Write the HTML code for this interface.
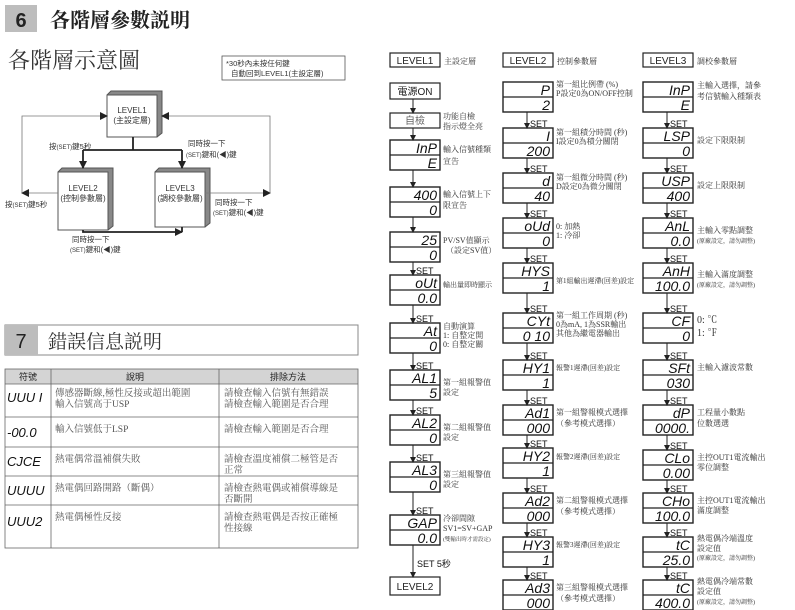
<!DOCTYPE html>
<html><head><meta charset="utf-8"><style>
body{margin:0;background:#fff;}
svg{display:block;font-family:"Liberation Sans","Noto Sans CJK TC",sans-serif;}
.s{font-family:"Liberation Serif","Noto Serif CJK SC",serif;fill:#333;font-size:8px;}
.g{font-family:"Liberation Sans",sans-serif;font-style:italic;font-size:14px;fill:#111;text-anchor:end;}
.set{font-size:9px;fill:#111;}
</style></head><body>
<svg width="795" height="610" viewBox="0 0 795 610">
<defs>
<marker id="a" markerWidth="8" markerHeight="8" refX="7" refY="4" orient="auto" markerUnits="userSpaceOnUse"><path d="M0,0 L8,4 L0,8z" fill="#222"/></marker>
<marker id="b" markerWidth="6" markerHeight="6" refX="5" refY="3" orient="auto" markerUnits="userSpaceOnUse"><path d="M0,0 L6,3 L0,6z" fill="#222"/></marker>
</defs>
<!-- title 6 -->
<rect x="5" y="5" width="32" height="27" fill="#bdbdbd"/>
<text x="21" y="27" font-size="20" font-weight="bold" text-anchor="middle" fill="#222">6</text>
<text x="50" y="27" font-size="20" font-weight="bold" font-family="Liberation Serif,Noto Serif CJK SC,serif" fill="#222">各階層參數説明</text>
<text x="8" y="68" font-size="22" font-family="Liberation Serif,Noto Serif CJK SC,serif" fill="#333">各階層示意圖</text>
<rect x="222" y="56" width="123" height="24" fill="none" stroke="#555" stroke-width="0.8"/>
<text x="226" y="66" font-size="7.5" fill="#333">*30秒內未按任何鍵</text>
<text x="231" y="76" font-size="7.5" fill="#333">自動回到LEVEL1(主設定層)</text>
<!-- level boxes -->
<g stroke="#555" stroke-width="1">
<path d="M107,95 L111,91 L162,91 L162,133 L157,137" fill="#888"/>
<rect x="107" y="95" width="50" height="42" fill="#fff"/>
<path d="M58,172 L62,168 L113,168 L113,226 L108,230" fill="#888"/>
<rect x="58" y="172" width="50" height="58" fill="#fff"/>
<path d="M155,172 L159,168 L210,168 L210,223 L205,227" fill="#888"/>
<rect x="155" y="172" width="50" height="55" fill="#fff"/>
</g>
<g font-size="8" fill="#333" text-anchor="middle">
<text x="132" y="113">LEVEL1</text><text x="132" y="123">(主設定層)</text>
<text x="83" y="191">LEVEL2</text><text x="83" y="201">(控制參數層)</text>
<text x="180" y="191">LEVEL3</text><text x="180" y="201">(調校參數層)</text>
</g>
<g fill="none" stroke="#222" stroke-width="1.8">
<path d="M133,137 V150 M83,150 H182"/>
<path d="M83,150 V168" marker-end="url(#a)"/>
<path d="M182,150 V168" marker-end="url(#a)"/>
<path d="M83,230 V232 H182" marker-end="url(#a)"/>
<path d="M182,227 V232"/>
</g>
<g fill="none" stroke="#777" stroke-width="0.8">
<path d="M58,193 H22" marker-end="url(#a)"/>
<path d="M22,193 V116 H107" marker-end="url(#a)"/>
<path d="M205,193 H270" marker-end="url(#a)"/>
<path d="M270,193 V116 H162" marker-end="url(#a)"/>
</g>
<g font-size="7.5" fill="#333">
<text x="49" y="149">按<tspan font-size="6">(SET)</tspan>鍵5秒</text>
<text x="188" y="146">同時按一下</text><text x="186" y="157"><tspan font-size="6">(SET)</tspan>鍵和(◀)鍵</text>
<text x="5" y="207">按<tspan font-size="6">(SET)</tspan>鍵5秒</text>
<text x="215" y="205">同時按一下</text><text x="213" y="215"><tspan font-size="6">(SET)</tspan>鍵和(◀)鍵</text>
<text x="72" y="242">同時按一下</text><text x="70" y="252"><tspan font-size="6">(SET)</tspan>鍵和(◀)鍵</text>
</g>
<!-- section 7 -->
<rect x="5" y="325" width="353" height="30" fill="#fff" stroke="#888"/>
<rect x="5" y="325" width="33" height="30" fill="#bdbdbd"/>
<text x="21" y="348" font-size="20" text-anchor="middle" fill="#222">7</text>
<text x="48" y="348" font-size="19" font-family="Liberation Serif,Noto Serif CJK SC,serif" fill="#333">錯誤信息説明</text>
<rect x="5" y="369" width="353" height="15" fill="#d4d4d4"/>
<g stroke="#666" stroke-width="0.8" fill="none">
<rect x="5" y="369" width="353" height="179"/>
<path d="M5,384 H358 M5,417 H358 M5,447 H358 M5,476 H358 M5,505 H358 M51,369 V548 M219,369 V548"/>
</g>
<g font-size="9" fill="#222" text-anchor="middle">
<text x="28" y="380">符號</text><text x="135" y="380">說明</text><text x="288" y="380">排除方法</text>
</g>
<g font-family="Liberation Sans,sans-serif" font-style="italic" font-size="13" fill="#111">
<text x="7" y="402">UUU I</text><text x="7" y="437">-00.0</text><text x="7" y="466">CJCE</text><text x="7" y="495">UUUU</text><text x="7" y="526">UUU2</text>
</g>
<g class="s" style="font-size:9.5px;fill:#555">
<text x="55" y="396">傳感器斷線,極性反接或超出範圍</text><text x="55" y="407">輸入信號高于USP</text>
<text x="55" y="432">輸入信號低于LSP</text>
<text x="55" y="462">熱電偶常溫補償失敗</text>
<text x="55" y="491">熱電偶回路開路（斷偶）</text>
<text x="55" y="520">熱電偶極性反接</text>
<text x="224" y="396">請檢查輸入信號有無錯誤</text><text x="224" y="407">請檢查輸入範圍是否合理</text>
<text x="224" y="432">請檢查輸入範圍是否合理</text>
<text x="224" y="462">請檢查溫度補償二極管是否</text><text x="224" y="473">正常</text>
<text x="224" y="491">請檢查熱電偶或補償導線是</text><text x="224" y="502">否斷開</text>
<text x="224" y="520">請檢查熱電偶是否按正確極</text><text x="224" y="531">性接線</text>
</g>
<!-- right headers -->
<g stroke="#222" stroke-width="1.2" fill="#fff">
<rect x="390" y="53" width="50" height="14"/><rect x="503" y="53" width="50" height="14"/><rect x="643" y="53" width="50" height="14"/>
<rect x="390" y="83" width="50" height="16"/><rect x="390" y="113" width="50" height="15"/>
<rect x="390" y="577" width="50" height="18"/>
</g>
<g font-size="10" fill="#222" text-anchor="middle">
<text x="415" y="64">LEVEL1</text><text x="528" y="64">LEVEL2</text><text x="668" y="64">LEVEL3</text>
<text x="415" y="95">電源ON</text><text x="415" y="124" fill="#666">自檢</text><text x="415" y="590">LEVEL2</text>
</g>
<g class="s"><text x="444" y="64">主設定層</text><text x="557" y="64">控制參數層</text><text x="697" y="64">調校參數層</text></g>
<!-- displays -->
<g stroke="#222" stroke-width="1.4" fill="#fff">
<rect x="390" y="140" width="50" height="30"/><rect x="390" y="187" width="50" height="30"/><rect x="390" y="232" width="50" height="30"/><rect x="390" y="275" width="50" height="30"/><rect x="390" y="323" width="50" height="30"/><rect x="390" y="370" width="50" height="30"/><rect x="390" y="415" width="50" height="30"/><rect x="390" y="462" width="50" height="30"/><rect x="390" y="515" width="50" height="30"/>
<rect x="503" y="82" width="50" height="30"/><rect x="503" y="128" width="50" height="30"/><rect x="503" y="173" width="50" height="30"/><rect x="503" y="218" width="50" height="30"/><rect x="503" y="263" width="50" height="30"/><rect x="503" y="313" width="50" height="30"/><rect x="503" y="360" width="50" height="30"/><rect x="503" y="405" width="50" height="30"/><rect x="503" y="448" width="50" height="30"/><rect x="503" y="493" width="50" height="30"/><rect x="503" y="537" width="50" height="30"/><rect x="503" y="580" width="50" height="30"/>
<rect x="643" y="82" width="50" height="30"/><rect x="643" y="128" width="50" height="30"/><rect x="643" y="173" width="50" height="30"/><rect x="643" y="218" width="50" height="30"/><rect x="643" y="263" width="50" height="30"/><rect x="643" y="313" width="50" height="30"/><rect x="643" y="360" width="50" height="30"/><rect x="643" y="405" width="50" height="30"/><rect x="643" y="450" width="50" height="30"/><rect x="643" y="493" width="50" height="30"/><rect x="643" y="537" width="50" height="30"/><rect x="643" y="580" width="50" height="30"/>
</g>
<g stroke="#222" stroke-width="1.2">
<path d="M390,155h50M390,202h50M390,247h50M390,290h50M390,338h50M390,385h50M390,430h50M390,477h50M390,530h50"/>
<path d="M503,97h50M503,143h50M503,188h50M503,233h50M503,278h50M503,328h50M503,375h50M503,420h50M503,463h50M503,508h50M503,552h50M503,595h50"/>
<path d="M643,97h50M643,143h50M643,188h50M643,233h50M643,278h50M643,328h50M643,375h50M643,420h50M643,465h50M643,508h50M643,552h50M643,595h50"/>
</g>
<g class="g">
<text x="437" y="153">InP</text><text x="437" y="168">E</text>
<text x="437" y="200">400</text><text x="437" y="215">0</text>
<text x="437" y="245">25</text><text x="437" y="260">0</text>
<text x="437" y="288">oUt</text><text x="437" y="303">0.0</text>
<text x="437" y="336">At</text><text x="437" y="351">0</text>
<text x="437" y="383">AL1</text><text x="437" y="398">5</text>
<text x="437" y="428">AL2</text><text x="437" y="443">0</text>
<text x="437" y="475">AL3</text><text x="437" y="490">0</text>
<text x="437" y="528">GAP</text><text x="437" y="543">0.0</text>
<text x="550" y="95">P</text><text x="550" y="110">2</text>
<text x="550" y="141">I</text><text x="550" y="156">200</text>
<text x="550" y="186">d</text><text x="550" y="201">40</text>
<text x="550" y="231">oUd</text><text x="550" y="246">0</text>
<text x="550" y="276">HYS</text><text x="550" y="291">1</text>
<text x="550" y="326">CYt</text><text x="550" y="341">0 10</text>
<text x="550" y="373">HY1</text><text x="550" y="388">1</text>
<text x="550" y="418">Ad1</text><text x="550" y="433">000</text>
<text x="550" y="461">HY2</text><text x="550" y="476">1</text>
<text x="550" y="506">Ad2</text><text x="550" y="521">000</text>
<text x="550" y="550">HY3</text><text x="550" y="565">1</text>
<text x="550" y="593">Ad3</text><text x="550" y="608">000</text>
<text x="690" y="95">InP</text><text x="690" y="110">E</text>
<text x="690" y="141">LSP</text><text x="690" y="156">0</text>
<text x="690" y="186">USP</text><text x="690" y="201">400</text>
<text x="690" y="231">AnL</text><text x="690" y="246">0.0</text>
<text x="690" y="276">AnH</text><text x="690" y="291">100.0</text>
<text x="690" y="326">CF</text><text x="690" y="341">0</text>
<text x="690" y="373">SFt</text><text x="690" y="388">030</text>
<text x="690" y="418">dP</text><text x="690" y="433">0000.</text>
<text x="690" y="463">CLo</text><text x="690" y="478">0.00</text>
<text x="690" y="506">CHo</text><text x="690" y="521">100.0</text>
<text x="690" y="550">tC</text><text x="690" y="565">25.0</text>
<text x="690" y="593">tC</text><text x="690" y="608">400.0</text>
</g>
<!-- arrows -->
<g stroke="#222" stroke-width="1">
<path d="M413,99V113" marker-end="url(#b)"/><path d="M413,128V140" marker-end="url(#b)"/><path d="M413,170V187" marker-end="url(#b)"/><path d="M413,217V232" marker-end="url(#b)"/>
<path d="M413,262V275" marker-end="url(#b)"/><path d="M413,305V323" marker-end="url(#b)"/><path d="M413,353V370" marker-end="url(#b)"/><path d="M413,400V415" marker-end="url(#b)"/><path d="M413,445V462" marker-end="url(#b)"/><path d="M413,492V515" marker-end="url(#b)"/><path d="M413,545V577" marker-end="url(#b)"/>
<path d="M527,112V128" marker-end="url(#b)"/><path d="M527,158V173" marker-end="url(#b)"/><path d="M527,203V218" marker-end="url(#b)"/><path d="M527,248V263" marker-end="url(#b)"/><path d="M527,293V313" marker-end="url(#b)"/><path d="M527,343V360" marker-end="url(#b)"/><path d="M527,390V405" marker-end="url(#b)"/><path d="M527,435V448" marker-end="url(#b)"/><path d="M527,478V493" marker-end="url(#b)"/><path d="M527,523V537" marker-end="url(#b)"/><path d="M527,567V580" marker-end="url(#b)"/>
<path d="M667,112V128" marker-end="url(#b)"/><path d="M667,158V173" marker-end="url(#b)"/><path d="M667,203V218" marker-end="url(#b)"/><path d="M667,248V263" marker-end="url(#b)"/><path d="M667,293V313" marker-end="url(#b)"/><path d="M667,343V360" marker-end="url(#b)"/><path d="M667,390V405" marker-end="url(#b)"/><path d="M667,435V450" marker-end="url(#b)"/><path d="M667,480V493" marker-end="url(#b)"/><path d="M667,523V537" marker-end="url(#b)"/><path d="M667,567V580" marker-end="url(#b)"/><path d="M667,610V616"/>
</g>
<g class="set">
<text x="416" y="274">SET</text><text x="416" y="322">SET</text><text x="416" y="369">SET</text><text x="416" y="414">SET</text><text x="416" y="461">SET</text><text x="416" y="514">SET</text><text x="417" y="567">SET 5秒</text>
<text x="530" y="127">SET</text><text x="530" y="172">SET</text><text x="530" y="217">SET</text><text x="530" y="262">SET</text><text x="530" y="312">SET</text><text x="530" y="359">SET</text><text x="530" y="404">SET</text><text x="530" y="447">SET</text><text x="530" y="492">SET</text><text x="530" y="536">SET</text><text x="530" y="579">SET</text>
<text x="670" y="127">SET</text><text x="670" y="172">SET</text><text x="670" y="217">SET</text><text x="670" y="262">SET</text><text x="670" y="312">SET</text><text x="670" y="359">SET</text><text x="670" y="404">SET</text><text x="670" y="449">SET</text><text x="670" y="492">SET</text><text x="670" y="536">SET</text><text x="670" y="579">SET</text>
</g>
<!-- descriptions -->
<g class="s">
<text x="443" y="119">功能自檢</text><text x="443" y="129">指示燈全亮</text>
<text x="443" y="152">輸入信號種類</text><text x="443" y="164">宣告</text>
<text x="443" y="197">輸入信號上下</text><text x="443" y="208">限宣告</text>
<text x="443" y="243">PV/SV值顯示</text><text x="446" y="253">（設定SV值）</text>
<text x="443" y="287" style="font-size:7px">輸出量即時顯示</text>
<text x="443" y="329">自動演算</text><text x="443" y="338">1: 自整定開</text><text x="443" y="347">0: 自整定關</text>
<text x="443" y="385">第一組報警值</text><text x="443" y="395">設定</text>
<text x="443" y="430">第二組報警值</text><text x="443" y="440">設定</text>
<text x="443" y="477">第三組報警值</text><text x="443" y="487">設定</text>
<text x="443" y="521">冷卻間隙</text><text x="443" y="531">SV1=SV+GAP</text><text x="443" y="541" style="font-size:5.5px">(雙輸出時才需設定)</text>
<text x="556" y="87">第一組比例帶 (%)</text><text x="556" y="96">P設定0為ON/OFF控制</text>
<text x="556" y="135">第一組積分時間 (秒)</text><text x="556" y="144">I設定0為積分關閉</text>
<text x="556" y="180">第一組微分時間 (秒)</text><text x="556" y="189">D設定0為微分關閉</text>
<text x="556" y="229">0:  加熱</text><text x="556" y="238">1:  冷卻</text>
<text x="556" y="283" style="font-size:7px">第1組輸出遲滯(回差)設定</text>
<text x="556" y="318">第一組工作周期 (秒)</text><text x="556" y="327">0為mA, 1為SSR輸出</text><text x="556" y="336">其他為繼電器輸出</text>
<text x="556" y="370" style="font-size:7px">報警1遲滯(回差)設定</text>
<text x="556" y="415">第一組警報模式選擇</text><text x="556" y="426">（參考模式選擇）</text>
<text x="556" y="459" style="font-size:7px">報警2遲滯(回差)設定</text>
<text x="556" y="503">第二組警報模式選擇</text><text x="556" y="514">（參考模式選擇）</text>
<text x="556" y="547" style="font-size:7px">報警3遲滯(回差)設定</text>
<text x="556" y="590">第三組警報模式選擇</text><text x="556" y="601">（參考模式選擇）</text>
<text x="697" y="88">主輸入選擇，請參</text><text x="697" y="99">考信號輸入種類表</text>
<text x="697" y="143">設定下限限制</text><text x="697" y="188">設定上限限制</text>
<text x="697" y="233">主輸入零點調整</text><text x="697" y="243" style="font-size:6px">(原廠設定，請勿調整)</text>
<text x="697" y="277">主輸入滿度調整</text><text x="697" y="287" style="font-size:6px">(原廠設定，請勿調整)</text>
<text x="697" y="323" style="font-size:10px">0:  ℃</text><text x="697" y="336" style="font-size:10px">1:  ℉</text>
<text x="697" y="370">主輸入濾波常數</text>
<text x="697" y="415">工程量小數點</text><text x="697" y="426">位數選選</text>
<text x="697" y="460">主控OUT1電流輸出</text><text x="697" y="470">零位調整</text>
<text x="697" y="503">主控OUT1電流輸出</text><text x="697" y="513">滿度調整</text>
<text x="697" y="541">熱電偶冷端溫度</text><text x="697" y="551">設定值</text><text x="697" y="560" style="font-size:6px">(原廠設定，請勿調整)</text>
<text x="697" y="584">熱電偶冷端常數</text><text x="697" y="594">設定值</text><text x="697" y="604" style="font-size:6px">(原廠設定，請勿調整)</text>
</g>
</svg>
</body></html>
